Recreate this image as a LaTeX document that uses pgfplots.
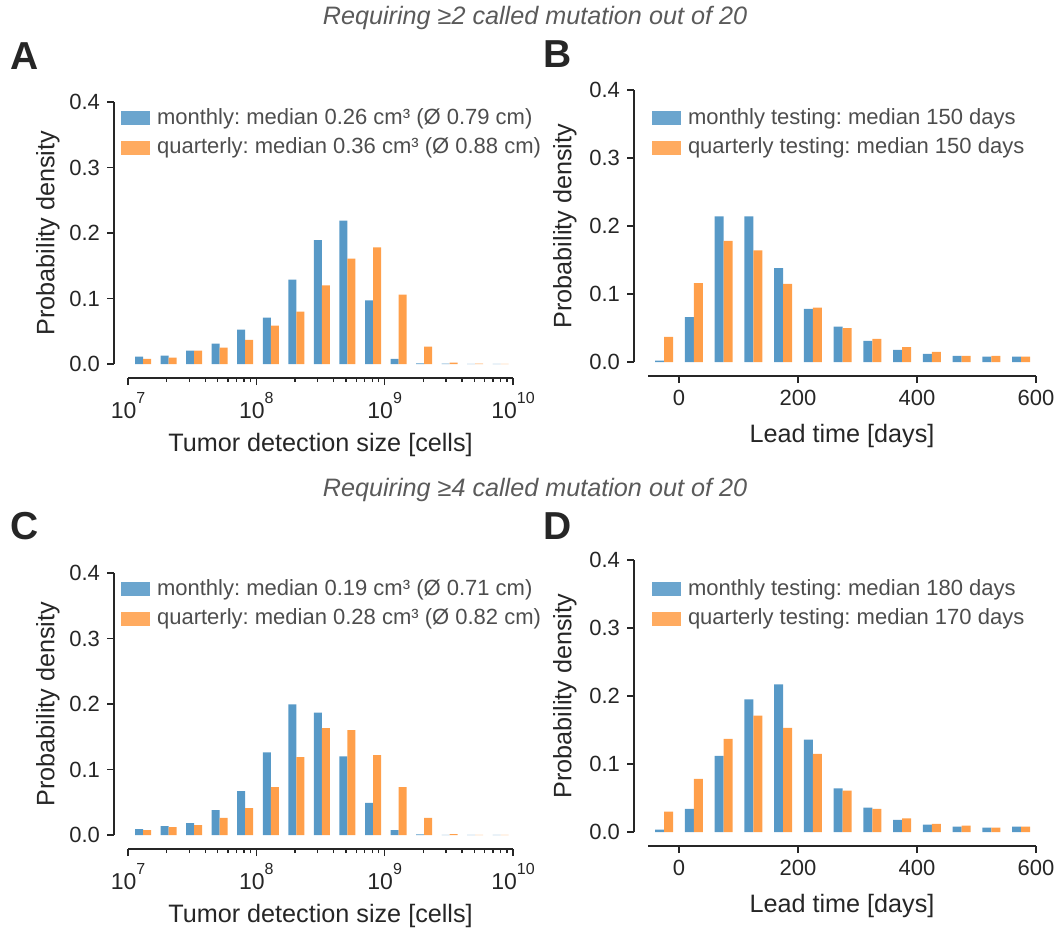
\documentclass[border=0pt]{standalone}
\usepackage{fontspec}
\setmainfont{Liberation Sans}
\usepackage{pgfplots}
\usepackage{pgfplotstable}
\pgfplotsset{compat=1.18}
\frenchspacing

\definecolor{barblue}{RGB}{87,153,199}
\definecolor{barorange}{RGB}{255,159,74}
\definecolor{axcol}{RGB}{38,38,38}
\definecolor{legtext}{RGB}{77,77,77}
\definecolor{titlecol}{RGB}{90,90,90}

% Panel A: tumor detection size, >=2 mutations
\pgfplotstableread{
x m q
1.309e7 0.0112 0.0080
2.070e7 0.0128 0.0097
3.273e7 0.0204 0.0204
5.176e7 0.0310 0.0250
8.185e7 0.0526 0.0370
1.297e8 0.0709 0.0587
2.051e8 0.1290 0.0800
3.243e8 0.1890 0.1200
5.129e8 0.2190 0.1610
8.110e8 0.0970 0.1780
1.282e9 0.0080 0.1060
2.028e9 0.0010 0.0265
3.206e9 0.0005 0.0020
5.070e9 0.0003 0.0005
8.017e9 0.0002 0.0003
}\tabA

% Panel B: lead time, >=2 mutations
\pgfplotstableread{
x m q
-25 0.0020 0.0370
25 0.0660 0.1160
75 0.2140 0.1780
125 0.2140 0.1640
175 0.1380 0.1150
225 0.0780 0.0800
275 0.0520 0.0500
325 0.0310 0.0340
375 0.0180 0.0220
425 0.0120 0.0150
475 0.0090 0.0090
525 0.0080 0.0090
575 0.0080 0.0080
}\tabB

% Panel C: tumor detection size, >=4 mutations
\pgfplotstableread{
x m q
1.309e7 0.0090 0.0076
2.070e7 0.0137 0.0120
3.273e7 0.0180 0.0150
5.176e7 0.0380 0.0260
8.185e7 0.0670 0.0410
1.297e8 0.1260 0.0730
2.051e8 0.1995 0.1190
3.243e8 0.1870 0.1630
5.129e8 0.1200 0.1600
8.110e8 0.0490 0.1220
1.282e9 0.0076 0.0730
2.028e9 0.0010 0.0260
3.206e9 0.0003 0.0015
5.070e9 0.0002 0.0003
8.017e9 0.0002 0.0003
}\tabC

% Panel D: lead time, >=4 mutations
\pgfplotstableread{
x m q
-25 0.0034 0.0300
25 0.0340 0.0780
75 0.1120 0.1370
125 0.1950 0.1710
175 0.2170 0.1530
225 0.1360 0.1150
275 0.0640 0.0610
325 0.0360 0.0340
375 0.0180 0.0200
425 0.0110 0.0120
475 0.0080 0.0093
525 0.0064 0.0064
575 0.0080 0.0080
}\tabD

\pgfplotsset{
  panel/.style={
    scale only axis,
    anchor=south west,
    axis x line*=bottom, axis y line*=left,
    axis x line shift=7pt, axis y line shift=7pt,
    axis line style={axcol, line width=0.65pt, -},
    tick align=outside,
    major tick length=3.5pt, minor tick length=2pt,
    every tick/.style={axcol, line width=0.65pt},
    ymin=0, ymax=0.4, ytick={0,0.1,0.2,0.3,0.4},
    /pgf/number format/assume math mode=true,
    yticklabel style={/pgf/number format/.cd, fixed, fixed zerofill, precision=1, assume math mode=true},
    tick label style={font=\fontsize{11}{13}\selectfont, text=axcol},
    label style={font=\fontsize{12.6}{15}\selectfont, text=axcol},
    ylabel={Probability density},
    ylabel style={anchor=center},
    xlabel style={anchor=center},
    ybar=0pt,
    legend cell align=left,
    legend image code/.code={\fill[##1, fill opacity=0.88] (0pt,-3.5pt) rectangle (14.5pt,3.5pt);},
    legend style={draw=none, fill=none, inner sep=0pt, outer sep=0pt,
      font=\fontsize{11}{13}\selectfont, row sep=3.45pt,
      nodes={inner sep=1pt, text=legtext}, anchor=north west,
      /tikz/every odd column/.style={column sep=2.5pt}},
  },
  sizepanel/.style={
    panel,
    width=192.5pt, height=131pt,
    xmin=1e7, xmax=1e10,
    xtick={1e7,1e8,1e9,1e10},
    xticklabels={10\raisebox{7.8pt}{\fontsize{8}{9}\selectfont 7},
                 10\raisebox{7.8pt}{\fontsize{8}{9}\selectfont 8},
                 10\raisebox{7.8pt}{\fontsize{8}{9}\selectfont 9},
                 10\raisebox{7.8pt}{\fontsize{8}{9}\selectfont 10}},
    minor xtick={2e7,3e7,4e7,5e7,6e7,7e7,8e7,9e7,2e8,3e8,4e8,5e8,6e8,7e8,8e8,9e8,2e9,3e9,4e9,5e9,6e9,7e9,8e9,9e9},
    xticklabel style={font=\fontsize{11.5}{13}\selectfont},
    bar width=4pt,
    xlabel={Tumor detection size [cells]},
    xlabel style={at={(axis description cs:0.5,-0.309)}},
    ylabel style={at={(axis description cs:-0.208,0.5)}},
    legend style={at={(axis description cs:-0.018,0.984)}},
  },
  leadpanel/.style={
    panel,
    width=194pt, height=136pt,
    xmin=-52, xmax=600,
    xtick={0,200,400,600},
    bar width=4.5pt,
    xlabel={Lead time [days]},
    xlabel style={at={(axis description cs:0.5,-0.272)}},
    ylabel style={at={(axis description cs:-0.214,0.5)}},
  },
}

\begin{document}
\begin{tikzpicture}
\path[use as bounding box] (0pt,0pt) rectangle (529pt,-465pt);

\node[font=\fontsize{12.6}{15}\selectfont\itshape, text=titlecol] at (267.5pt,-9pt) {Requiring ≥2 called mutation out of 20};
\node[font=\fontsize{12.6}{15}\selectfont\itshape, text=titlecol] at (267.5pt,-245pt) {Requiring ≥4 called mutation out of 20};

\node[anchor=base west, inner sep=0pt, font=\fontsize{19.5}{22}\selectfont\bfseries, text=axcol] at (5pt,-35pt) {A};
\node[anchor=base west, inner sep=0pt, font=\fontsize{19.5}{22}\selectfont\bfseries, text=axcol] at (271.5pt,-34pt) {B};
\node[anchor=base west, inner sep=0pt, font=\fontsize{19.5}{22}\selectfont\bfseries, text=axcol] at (5pt,-269.5pt) {C};
\node[anchor=base west, inner sep=0pt, font=\fontsize{19.5}{22}\selectfont\bfseries, text=axcol] at (271.5pt,-269.5pt) {D};

% Panel A
\begin{semilogxaxis}[sizepanel, at={(64pt,-182pt)}]
\addplot[fill=barblue, draw=none] table[x=x, y=m] {\tabA};
\addlegendentry{monthly: median 0.26 cm³ (Ø 0.79 cm)}
\addplot[fill=barorange, draw=none] table[x=x, y=q] {\tabA};
\addlegendentry{quarterly: median 0.36 cm³ (Ø 0.88 cm)}
\end{semilogxaxis}

% Panel B
\begin{axis}[leadpanel, at={(324pt,-181pt)},
  legend style={at={(axis description cs:0.0103,0.9404)}}]
\addplot[fill=barblue, draw=none] table[x=x, y=m] {\tabB};
\addlegendentry{monthly testing: median 150 days}
\addplot[fill=barorange, draw=none] table[x=x, y=q] {\tabB};
\addlegendentry{quarterly testing: median 150 days}
\end{axis}

% Panel C
\begin{semilogxaxis}[sizepanel, at={(64pt,-417.5pt)}]
\addplot[fill=barblue, draw=none] table[x=x, y=m] {\tabC};
\addlegendentry{monthly: median 0.19 cm³ (Ø 0.71 cm)}
\addplot[fill=barorange, draw=none] table[x=x, y=q] {\tabC};
\addlegendentry{quarterly: median 0.28 cm³ (Ø 0.82 cm)}
\end{semilogxaxis}

% Panel D
\begin{axis}[leadpanel, at={(324pt,-416pt)},
  legend style={at={(axis description cs:0.0103,0.9368)}}]
\addplot[fill=barblue, draw=none] table[x=x, y=m] {\tabD};
\addlegendentry{monthly testing: median 180 days}
\addplot[fill=barorange, draw=none] table[x=x, y=q] {\tabD};
\addlegendentry{quarterly testing: median 170 days}
\end{axis}
\end{tikzpicture}
\end{document}
